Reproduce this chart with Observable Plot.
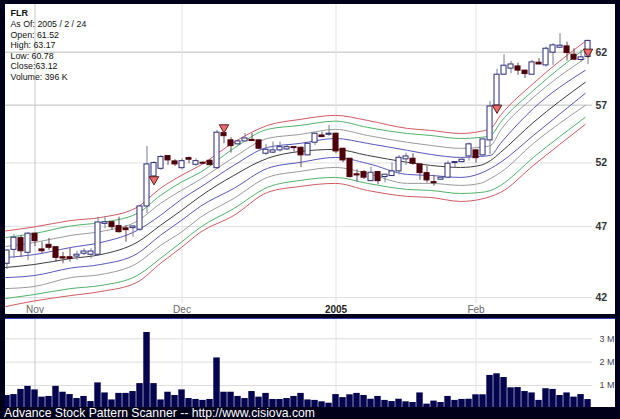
<!DOCTYPE html>
<html>
<head>
<meta charset="utf-8">
<script src="https://cdn.jsdelivr.net/npm/d3@7"></script>
<script src="https://cdn.jsdelivr.net/npm/@observablehq/plot@0.6"></script>
<style>
html,body{margin:0;padding:0;background:#00001a;width:620px;height:419px;overflow:hidden}
#main{position:absolute;left:5px;top:4px}
#vol{position:absolute;left:5px;top:319px}
#rule{position:absolute;left:5px;top:318px;width:610px;height:1px;background:#3340b0}
#cap{position:absolute;left:4px;top:406px;color:#fff;font:12.2px/14px "Liberation Sans",Arial,sans-serif;white-space:nowrap}
</style>
</head>
<body>
<div id="main"></div>
<div id="rule"></div>
<div id="vol"></div>
<div id="cap">Advance Stock Pattern Scanner -- http://www.cisiova.com</div>
<script>
const symbolName = "FLR";
const infoLines = ["As Of: 2005 / 2 / 24","Open: 61.52","High: 63.17","Low: 60.78","Close:63.12","Volume: 396 K"];

const openP = [44.31,45.30,46.15,45.09,46.48,45.33,45.66,45.49,44.77,44.77,44.82,45.02,44.95,44.95,47.21,47.33,47.04,46.87,46.89,46.77,48.53,50.90,51.52,52.57,52.13,51.57,52.40,51.85,52.02,52.18,51.57,54.52,53.90,53.56,53.81,53.94,53.90,52.77,52.86,53.05,53.13,53.32,53.27,52.63,53.70,54.32,54.38,54.47,53.19,52.35,51.07,51.25,50.52,51.25,50.85,50.93,51.31,52.30,52.35,51.88,51.17,50.44,50.64,50.80,51.99,52.07,52.54,53.05,52.63,53.90,56.97,59.82,60.40,60.61,60.21,59.82,60.97,60.71,61.95,62.44,62.57,61.75,61.23,61.52];
const highP = [45.30,46.42,46.35,46.57,46.52,45.85,46.13,45.49,45.12,45.40,45.20,45.38,45.38,47.71,47.76,47.33,47.71,47.09,47.09,48.61,53.38,52.10,52.63,52.57,52.27,52.35,52.49,52.35,52.07,52.27,54.76,54.55,54.13,53.90,54.49,54.49,53.90,53.56,53.75,53.75,53.47,53.35,53.32,53.61,54.52,54.60,55.19,54.52,53.19,52.35,51.44,51.38,51.65,51.25,51.04,51.99,52.63,52.82,52.77,51.88,51.71,50.98,50.85,52.15,52.07,52.35,53.67,53.05,53.98,57.33,60.33,61.75,61.10,60.93,60.21,61.20,61.37,62.50,62.84,63.84,63.00,62.34,62.18,63.17];
const lowP = [43.91,44.68,44.75,44.54,45.54,45.02,45.26,44.42,44.31,44.42,44.54,44.90,44.66,44.90,46.84,46.72,46.52,45.85,46.22,46.67,47.99,50.82,51.40,51.80,51.71,51.44,51.94,51.74,51.85,51.80,51.47,53.61,52.82,53.47,53.77,53.81,53.10,52.63,52.77,52.91,53.05,52.91,51.61,52.63,53.47,54.13,54.24,52.77,52.02,50.76,50.44,50.66,50.52,50.23,50.39,50.93,51.04,51.80,51.80,50.58,50.37,50.12,50.58,50.72,51.61,52.02,52.15,51.99,52.57,52.68,56.23,59.76,59.92,59.76,59.45,59.82,60.80,60.55,60.71,62.40,61.13,61.26,61.10,60.78];
const closeP = [45.25,46.18,45.20,46.48,45.93,45.20,45.45,44.73,44.68,44.66,44.95,45.18,45.18,47.31,47.33,46.96,46.59,46.74,47.01,48.53,51.88,51.99,52.49,52.21,51.88,52.15,52.27,52.15,51.94,51.82,54.56,54.26,53.41,53.81,54.06,53.84,53.19,53.10,53.05,53.32,53.32,53.24,52.63,53.61,54.47,54.18,54.47,52.96,52.21,50.85,50.98,50.80,51.20,50.52,51.04,51.31,52.43,52.54,51.94,51.17,50.58,50.36,50.80,51.94,52.07,52.27,53.56,52.40,53.98,56.88,59.82,60.68,60.80,60.21,59.88,61.00,60.80,62.34,62.67,62.64,61.91,61.26,61.49,63.12];
const volumeM = [.57,.61,.83,.96,.81,.50,.53,.96,.71,.61,.44,.53,.31,1.11,.68,.38,.66,.66,.74,1.08,3.27,1.08,.38,.71,.57,.81,.44,.40,.36,.40,2.18,.71,.71,.53,.44,.74,.50,.66,.40,.40,.44,.53,.66,.38,.36,.30,.24,.61,.48,.60,.66,.57,.41,.53,.36,.31,.41,.30,.27,.68,.20,.33,.27,.53,.36,.40,.41,.60,.60,1.43,1.50,1.34,.90,.91,.74,.68,.36,.86,.83,.57,.68,.50,.61,.396];

const bandDays = [-0.2,3.9,9.1,13.4,18.6,21.9,24.9,27.6,32.4,37.2,41.9,46.9,51.5,57.2,60.5,64.8,67.6,69.1,70.5,75.2,82.6];
const redUpper = [46.68,46.98,47.46,47.69,48.47,49.94,50.98,51.80,53.73,55.19,55.72,56.08,55.63,54.93,54.76,54.49,54.67,54.93,56.08,59.00,63.07];
const greenUpper = [46.20,46.49,47.05,47.31,47.99,49.38,50.44,51.22,53.22,54.85,55.19,55.57,55.02,54.49,54.32,54.06,54.15,54.32,55.46,58.35,62.37];
const grayUpper = [45.54,45.83,46.35,46.64,47.41,48.76,49.78,50.66,52.46,54.06,54.41,54.85,54.32,53.73,53.47,53.22,53.30,53.47,54.76,57.70,61.39];
const blueUpper = [44.75,44.96,45.47,45.83,46.72,47.84,49.08,50.02,51.80,53.30,53.64,54.06,53.64,53.05,52.71,52.46,52.54,52.63,53.64,56.70,60.23];
const blackMid = [44.05,44.26,44.68,44.96,45.85,47.09,48.22,49.31,50.98,52.38,52.96,53.13,52.63,52.05,51.80,51.63,51.80,52.21,52.88,55.46,59.10];
const blueLower = [43.35,43.49,44.01,44.26,45.03,46.35,47.46,48.53,49.94,51.55,52.05,52.46,51.96,51.06,50.98,50.82,51.14,51.55,52.05,54.32,58.07];
const grayLower = [42.60,42.74,43.35,43.56,44.35,45.61,46.59,47.69,49.15,50.82,51.31,51.63,51.14,50.34,50.34,50.18,50.34,50.74,51.22,53.64,56.97];
const greenLower = [41.93,42.20,42.60,42.81,43.49,44.68,45.85,46.94,48.37,50.02,50.58,50.82,50.34,49.86,49.78,49.54,49.62,49.78,50.18,52.46,55.90];
const redLower = [41.40,41.77,42.13,42.40,43.03,44.33,45.47,46.57,47.84,49.62,50.10,50.34,49.78,49.31,49.23,48.92,49.08,49.31,49.62,51.80,55.28];

const signalDays = [21,31,70,83];
const signalPrices = [50.66,55.01,56.75,62.03];

const priceTicks = [42,47,52,57,62,67];
const monthDays = [4,25,67];
const monthNames = ["Nov","Dec","Feb"];
const yearDays = [47];
const yearNames = ["2005"];
const volumeTicks = [1,2,3];

const font = '"Liberation Sans",Arial,sans-serif';
const days = d3.range(openP.length);
const xDomain = [-0.2143, 83.64];
const upColor = "#2a2a78", downColor = "#4d0009", wickColor = "#777a98";
const bandSeries = [
  [redUpper,"#cf5a60"],[greenUpper,"#4fb268"],[grayUpper,"#9a9a9a"],[blueUpper,"#5656bc"],
  [blackMid,"#3c3c3c"],[blueLower,"#5656bc"],[grayLower,"#9a9a9a"],[greenLower,"#4fb268"],[redLower,"#cf5a60"]
];

const main = Plot.plot({
  width: 610, height: 310, marginLeft: 0, marginRight: 23, marginTop: 0, marginBottom: 11,
  style: {background:"white", fontFamily:font, overflow:"hidden"},
  x: {domain: xDomain},
  y: {type:"log", domain:[42,67], range:[293,-1.2]},
  marks: [
    Plot.gridY([47,52,42], {stroke:"#e0e0e0", strokeOpacity:1}),
    Plot.gridY([57,62], {stroke:"#bdbdbd", strokeOpacity:1}),
    Plot.gridX([25,47,67], {stroke:"#e2e2e2", strokeOpacity:1}),
    Plot.gridX([4], {stroke:"#c8c8c8", strokeOpacity:1}),
    Plot.axisY(priceTicks, {anchor:"right", tickSize:0, tickPadding:3, tickFormat:d=>d, fontSize:10.5, fontWeight:"bold", color:"#333", label:null}),
    Plot.axisX(monthDays, {tickSize:0, tickPadding:2, tickFormat:d=>monthNames[monthDays.indexOf(d)], fontSize:10, color:"#666", label:null}),
    Plot.axisX(yearDays, {tickSize:0, tickPadding:2, tickFormat:d=>yearNames[yearDays.indexOf(d)], fontSize:10, fontWeight:"bold", color:"#222", label:null}),
    ...bandSeries.map(([vals,color]) => Plot.line(bandDays.map((d,k)=>[d,vals[k]]), {x:d=>d[0], y:d=>d[1], stroke:color, strokeWidth:1, curve:"monotone-x"})),
    Plot.ruleX(days, {x:d=>d, y1:d=>lowP[d], y2:d=>highP[d], stroke:d=>closeP[d]>=openP[d]?wickColor:"#6a4a55", strokeWidth:1}),
    Plot.rect(days, {x1:d=>d-0.36, x2:d=>d+0.36, y1:d=>openP[d], y2:d=>closeP[d],
      fill:d=>closeP[d]>=openP[d]?"#ffffff":downColor,
      stroke:d=>closeP[d]>=openP[d]?upColor:downColor, strokeWidth:1}),
    Plot.dot(signalDays, {x:d=>d, y:(d,k)=>signalPrices[k], symbol:"triangle", rotate:180, r:3.5, fill:"#f06a6a", stroke:"#5a1a1a", strokeWidth:1}),
    Plot.text([symbolName], {frameAnchor:"top-left", dx:5, dy:5, fontSize:9, fontWeight:"bold", fill:"#111"}),
    Plot.text([infoLines.join("\n")], {frameAnchor:"top-left", dx:5, dy:15.5, fontSize:8.8, lineHeight:1.19, fill:"#111"})
  ]
});
document.getElementById("main").append(main);

const vol = Plot.plot({
  width: 610, height: 88, marginLeft: 0, marginRight: 23, marginTop: 0, marginBottom: 0,
  style: {background:"white", fontFamily:font, overflow:"hidden"},
  x: {domain: xDomain, axis:null},
  y: {domain:[0,3], range:[89.3,19.3]},
  marks: [
    Plot.gridY(volumeTicks, {stroke:"#dcdcdc", strokeOpacity:1}),
    Plot.gridX([25,47,67], {stroke:"#e2e2e2", strokeOpacity:1}),
    Plot.gridX([4], {stroke:"#c8c8c8", strokeOpacity:1}),
    Plot.axisY(volumeTicks, {anchor:"right", tickSize:0, tickPadding:7, tickFormat:d=>d+" M", fontSize:9, color:"#445", label:null}),
    Plot.rectY(days, {x1:d=>d-0.46, x2:d=>d+0.46, y1:0, y2:d=>volumeM[d], fill:"#05054f"})
  ]
});
document.getElementById("vol").append(vol);
</script>
</body>
</html>
